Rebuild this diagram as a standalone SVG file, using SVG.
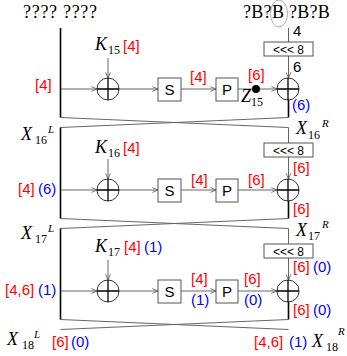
<svg xmlns="http://www.w3.org/2000/svg" width="347" height="356" viewBox="0 0 347 356">
<defs>
<marker id="ah" viewBox="0 0 10 10" refX="9.5" refY="5" markerWidth="6" markerHeight="6" orient="auto" markerUnits="userSpaceOnUse">
<path d="M0,1 L9.5,5 L0,9" fill="none" stroke="#555" stroke-width="1.3"/>
</marker>
<style>
.ln{stroke:#666;stroke-width:1;fill:none}
.bk{stroke:#000;stroke-width:1.6;fill:none}
.ar{stroke:#666;stroke-width:1;fill:none;marker-end:url(#ah)}
.bx{fill:#fff;stroke:#555;stroke-width:1}
.xr{fill:#fff;stroke:#333;stroke-width:1}
.pl{stroke:#000;stroke-width:1.3}
.sf{font-family:"Liberation Serif",serif;fill:#000}
.it{font-family:"Liberation Serif",serif;font-style:italic;font-size:18px;fill:#000}
.sub{font-family:"Liberation Serif",serif;font-size:12px;fill:#000}
.sup{font-family:"Liberation Serif",serif;font-style:italic;font-size:11px;fill:#000}
.sn{font-family:"Liberation Sans",sans-serif;fill:#000}
.r{fill:#f00;font-family:"Liberation Sans",sans-serif;font-size:15px}
.b{fill:#00f;font-family:"Liberation Sans",sans-serif;font-size:15px}
.bt{font-family:"Liberation Sans",sans-serif;font-size:15px;fill:#000;text-anchor:middle}
.rt{font-family:"Liberation Sans",sans-serif;font-size:12px;fill:#000;text-anchor:middle}
</style>
</defs>

<!-- top texts -->
<text class="sf" x="23" y="18" font-size="18" letter-spacing="0.7">???? ????</text>
<text class="sf" x="243" y="18" font-size="18" letter-spacing="0.3">?B?B ?B?B</text>
<ellipse cx="279" cy="13.5" rx="8.5" ry="13.5" fill="none" stroke="#999" stroke-width="0.8"/>

<g id="connectors">
  <!-- round 1 -->
  <line class="bk" x1="60.5" y1="28" x2="60.5" y2="117.5"/>
  <line class="ar" x1="61" y1="89" x2="97" y2="89"/>
  <line class="ar" x1="108" y1="58" x2="108" y2="78"/>
  <line class="ar" x1="119" y1="89" x2="158" y2="89"/>
  <line class="ar" x1="181" y1="89" x2="216" y2="89"/>
  <line class="ar" x1="238" y1="89" x2="277" y2="89"/>
  <line class="ln" x1="288.5" y1="28" x2="288.5" y2="42"/>
  <line class="ar" x1="288.5" y1="56" x2="288.5" y2="78"/>
  <line class="bk" x1="288.5" y1="100" x2="288.5" y2="117.5"/>
  <line class="ln" x1="60.5" y1="117.5" x2="288.5" y2="127.5"/>
  <line class="ln" x1="288.5" y1="117.5" x2="60.5" y2="127.5"/>
  <circle cx="256" cy="89" r="4" fill="#000"/>
  <!-- round 2 -->
  <line class="bk" x1="60.5" y1="127.5" x2="60.5" y2="218.5"/>
  <line class="ar" x1="61" y1="190" x2="97" y2="190"/>
  <line class="ar" x1="108" y1="159" x2="108" y2="179"/>
  <line class="ar" x1="119" y1="190" x2="158" y2="190"/>
  <line class="ar" x1="181" y1="190" x2="216" y2="190"/>
  <line class="ar" x1="238" y1="190" x2="277" y2="190"/>
  <line class="ln" x1="288.5" y1="127.5" x2="288.5" y2="143"/>
  <line class="ar" x1="288.5" y1="157" x2="288.5" y2="179"/>
  <line class="bk" x1="288.5" y1="201" x2="288.5" y2="218.5"/>
  <line class="ln" x1="60.5" y1="218.5" x2="288.5" y2="228.5"/>
  <line class="ln" x1="288.5" y1="218.5" x2="60.5" y2="228.5"/>
  <!-- round 3 -->
  <line class="bk" x1="60.5" y1="228.5" x2="60.5" y2="319.5"/>
  <line class="ar" x1="61" y1="291" x2="97" y2="291"/>
  <line class="ar" x1="108" y1="260" x2="108" y2="280"/>
  <line class="ar" x1="119" y1="291" x2="158" y2="291"/>
  <line class="ar" x1="181" y1="291" x2="216" y2="291"/>
  <line class="ar" x1="238" y1="291" x2="277" y2="291"/>
  <line class="ln" x1="288.5" y1="228.5" x2="288.5" y2="244"/>
  <line class="ar" x1="288.5" y1="258" x2="288.5" y2="280"/>
  <line class="bk" x1="288.5" y1="302" x2="288.5" y2="319.5"/>
  <line class="ln" x1="60.5" y1="319.5" x2="288.5" y2="329.5"/>
  <line class="ln" x1="288.5" y1="319.5" x2="60.5" y2="329.5"/>
</g>

<!-- round 1 nodes -->
<g id="xorK15"><circle class="xr" cx="108" cy="89" r="11"/><path class="pl" d="M97,89H119M108,78V100"/></g>
<g id="S15"><rect class="bx" x="158" y="78" width="23" height="23"/><text class="bt" x="169.5" y="95">S</text></g>
<g id="P15"><rect class="bx" x="216" y="78" width="22" height="23"/><text class="bt" x="227" y="95">P</text></g>
<g id="rot15"><rect class="bx" x="264" y="42" width="49" height="14"/><text class="rt" x="288.5" y="53.5">&lt;&lt;&lt; 8</text></g>
<g id="xorR15"><circle class="xr" cx="288" cy="89" r="11"/><path class="pl" d="M277,89H299M288,78V100"/></g>

<!-- round 2 nodes -->
<g id="xorK16"><circle class="xr" cx="108" cy="190" r="11"/><path class="pl" d="M97,190H119M108,179V201"/></g>
<g id="S16"><rect class="bx" x="158" y="179" width="23" height="23"/><text class="bt" x="169.5" y="196">S</text></g>
<g id="P16"><rect class="bx" x="216" y="179" width="22" height="23"/><text class="bt" x="227" y="196">P</text></g>
<g id="rot16"><rect class="bx" x="264" y="143" width="49" height="14"/><text class="rt" x="288.5" y="154.5">&lt;&lt;&lt; 8</text></g>
<g id="xorR16"><circle class="xr" cx="288" cy="190" r="11"/><path class="pl" d="M277,190H299M288,179V201"/></g>

<!-- round 3 nodes -->
<g id="xorK17"><circle class="xr" cx="108" cy="291" r="11"/><path class="pl" d="M97,291H119M108,280V302"/></g>
<g id="S17"><rect class="bx" x="158" y="280" width="23" height="23"/><text class="bt" x="169.5" y="297">S</text></g>
<g id="P17"><rect class="bx" x="216" y="280" width="22" height="23"/><text class="bt" x="227" y="297">P</text></g>
<g id="rot17"><rect class="bx" x="264" y="244" width="49" height="14"/><text class="rt" x="288.5" y="255.5">&lt;&lt;&lt; 8</text></g>
<g id="xorR17"><circle class="xr" cx="288" cy="291" r="11"/><path class="pl" d="M277,291H299M288,280V302"/></g>

<g id="labels">
<!-- round 1 -->
<text class="it" x="95" y="50">K</text><text class="sub" x="108" y="54">15</text><text class="r" x="123" y="51">[4]</text>
<text class="r" x="35" y="90">[4]</text>
<text class="r" x="190" y="82">[4]</text>
<text class="r" x="248" y="80">[6]</text>
<text class="it" x="241" y="102" font-size="16">Z</text><text class="sub" x="251" y="106">15</text>
<text class="sn" x="293" y="36" font-size="15">4</text>
<text class="sn" x="293" y="72" font-size="15">6</text>
<text class="b" x="292" y="110">(6)</text>

<!-- round 2 -->
<text class="it" x="21" y="140">X</text><text class="sub" x="35" y="144">16</text><text class="sup" x="48" y="133">L</text>
<text class="it" x="296" y="134">X</text><text class="sub" x="308" y="139">16</text><text class="sup" x="322" y="127">R</text>
<text class="it" x="95" y="153">K</text><text class="sub" x="108" y="157">16</text><text class="r" x="123" y="153">[4]</text>
<text class="r" x="18" y="194">[4]</text><text class="b" x="38" y="194">(6)</text>
<text class="r" x="191" y="185">[4]</text>
<text class="r" x="248" y="185">[6]</text>
<text class="r" x="293" y="173">[6]</text>
<text class="r" x="293" y="214">[6]</text>

<!-- round 3 -->
<text class="it" x="21" y="239">X</text><text class="sub" x="35" y="243">17</text><text class="sup" x="48" y="232">L</text>
<text class="it" x="296" y="236">X</text><text class="sub" x="308" y="240">17</text><text class="sup" x="322" y="228">R</text>
<text class="it" x="95" y="252">K</text><text class="sub" x="108" y="256">17</text><text class="r" x="124" y="252">[4]</text><text class="b" x="144" y="252">(1)</text>
<text class="r" x="5" y="295">[4,6]</text><text class="b" x="38" y="295">(1)</text>
<text class="r" x="191" y="284">[4]</text><text class="b" x="191" y="305">(1)</text>
<text class="r" x="244" y="284">[6]</text><text class="b" x="244" y="305">(0)</text>
<text class="r" x="293" y="272">[6]</text><text class="b" x="313" y="272">(0)</text>
<text class="r" x="293" y="315">[6]</text><text class="b" x="313" y="315">(0)</text>

<!-- bottom -->
<text class="it" x="7" y="345">X</text><text class="sub" x="22" y="349">18</text><text class="sup" x="34" y="338">L</text>
<text class="r" x="52" y="347">[6]</text><text class="b" x="71" y="347">(0)</text>
<text class="r" x="254" y="347">[4,6]</text><text class="b" x="289" y="347">(1)</text>
<text class="it" x="312" y="347">X</text><text class="sub" x="326" y="351">18</text><text class="sup" x="338" y="335">R</text>
</g>
</svg>
